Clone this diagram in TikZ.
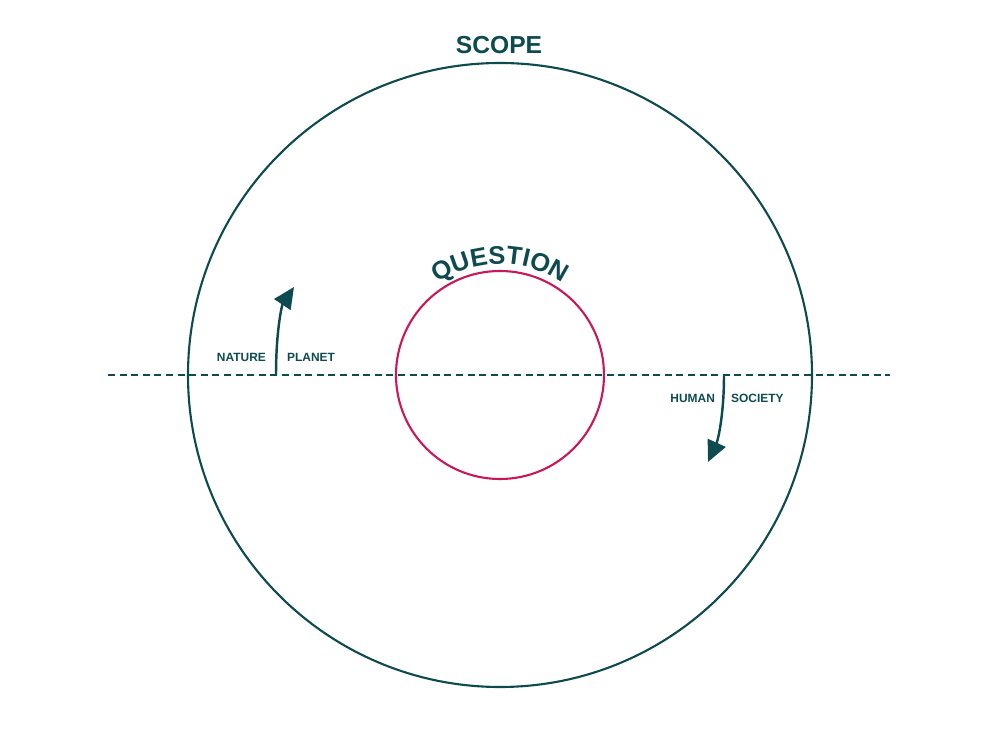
\documentclass[tikz,border=0pt]{standalone}
\usepackage{fontspec}
\setmainfont{Liberation Sans}
\usetikzlibrary{arrows.meta,decorations.text}
\definecolor{deepteal}{HTML}{0E4B50}
\definecolor{rosered}{HTML}{C8185A}
\begin{document}
\begin{tikzpicture}[x=0.2mm, y=0.2mm, font=\bfseries,
      ring/.style={line width=1.2pt},
      lbl/.style={text=deepteal, font=\bfseries\fontsize{6.8}{8}\selectfont, inner sep=1pt},
      turn/.style={deepteal, line width=1.4pt, -{Triangle[length=12pt, width=11pt]}}]
    \useasboundingbox (0,0) rectangle (1000,750);
    \draw[ring, deepteal] (500,375) circle[radius=312];
    \draw[ring, rosered] (500,375) circle[radius=104];
    \coordinate (west) at (108,375);
    \coordinate (east) at (890,375);
    \draw[deepteal, line width=1pt, dash pattern=on 4pt off 2.6pt] (west) -- (east);
    \node[text=deepteal, font=\bfseries\fontsize{14}{16}\selectfont] (scope) at (499,705) {SCOPE};
    \path[decorate, decoration={text along path, text align=center,
        text={|\fontsize{14.5}{16}\selectfont\bfseries\color{deepteal}|QUESTION}}]
      (500,375) ++(150:111) arc[start angle=150, end angle=30, radius=111];
    % arrows across the line
    \coordinate (up0) at (276,375);
    \coordinate (up1) at (294,463);
    \coordinate (dn0) at (724,375);
    \coordinate (dn1) at (708,288);
    \draw[turn] (up0) .. controls (276,420) and (282,445) .. (up1);
    \draw[turn] (dn0) .. controls (724,335) and (718,310) .. (dn1);
    \node[lbl, anchor=east] (nature) at (268,393) {NATURE};
    \node[lbl, anchor=west] (planet) at (285,393) {PLANET};
    \node[lbl, anchor=east] (human) at (717,352) {HUMAN};
    \node[lbl, anchor=west] (society) at (729,352) {SOCIETY};
\end{tikzpicture}
\end{document}
